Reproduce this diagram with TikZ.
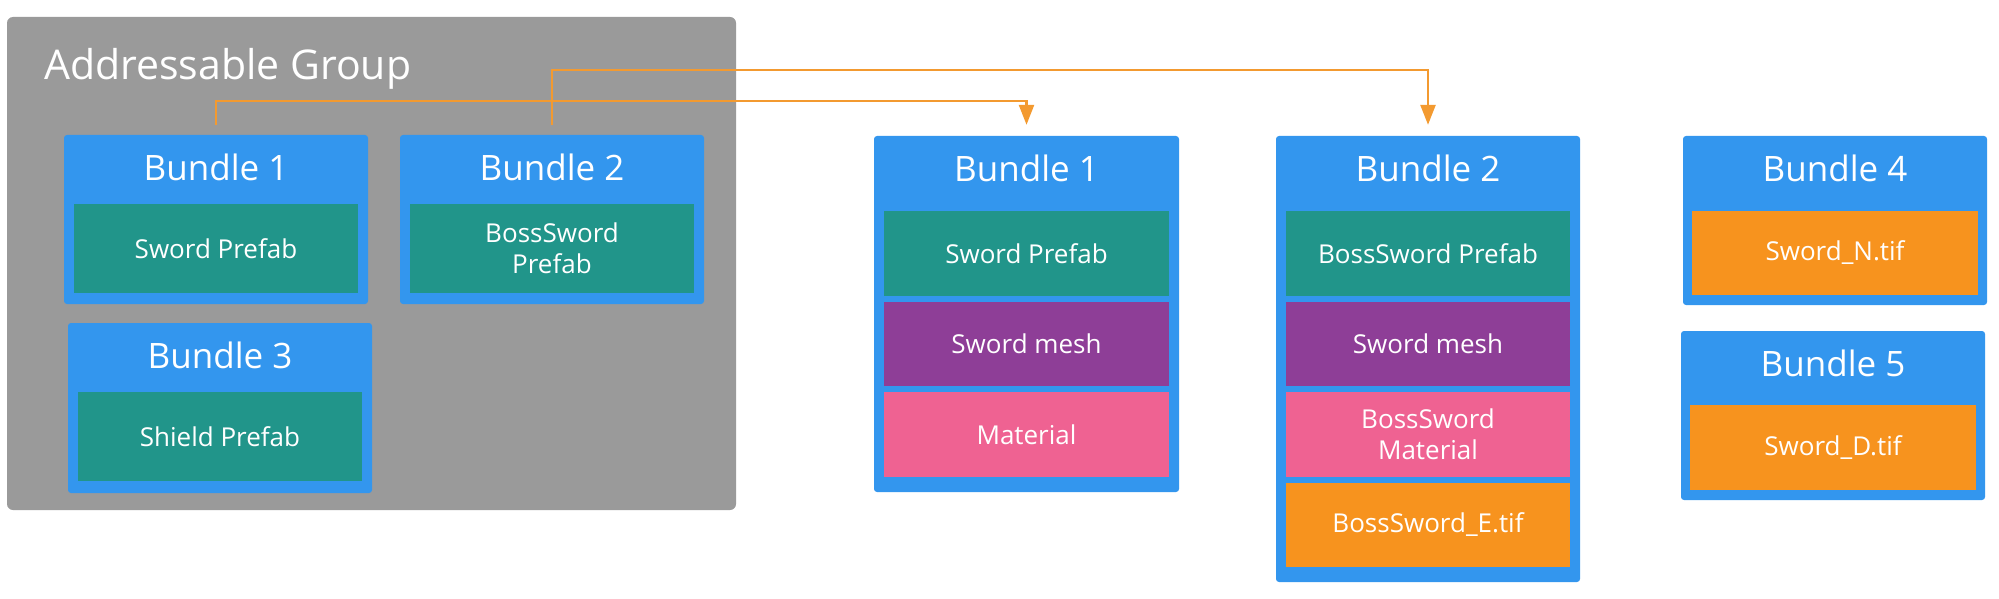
\documentclass[tikz,border=0pt]{standalone}
\usepackage{fontspec}
\setmainfont{Open Sans}
\usetikzlibrary{arrows.meta}
\definecolor{grp}{HTML}{9A9A9A}
\definecolor{bblue}{HTML}{3396EE}
\definecolor{tealc}{HTML}{21958A}
\definecolor{purp}{HTML}{8E3E97}
\definecolor{pinkc}{HTML}{EF6292}
\definecolor{orng}{HTML}{F7931E}
\definecolor{lineor}{HTML}{F39A30}
\begin{document}
\begin{tikzpicture}[x=1pt,y=-1pt,
  bundlebox/.style={fill=bblue,rounded corners=3pt,inner sep=0pt,draw=none},
  btitle/.style={text=white,font=\fontsize{35}{40}\selectfont,inner sep=0pt},
  item/.style={fill=#1,text=white,inner sep=0pt,align=center,
    font=\fontsize{26}{31}\selectfont},
  conn/.style={draw=lineor,line width=2.5pt,
    -{Triangle[width=15pt,length=20pt]},shorten <=10pt,shorten >=11pt}]
\useasboundingbox (0,0) rectangle (1999,599);
% group
\node[fill=grp,rounded corners=6pt,minimum width=729pt,minimum height=493pt,inner sep=0pt] (grp) at (371.5,263.5) {};
\node[anchor=base west,text=white,inner sep=0pt,font=\fontsize{41}{46}\selectfont] (grptitle) at (44,80) {Addressable Group};
% group bundles
\node[bundlebox,minimum width=304pt,minimum height=169pt] (gB1) at (216,219.5) {};
\node[btitle] (gB1t) at (216,167) {Bundle 1};
\node[item=tealc,minimum width=284pt,minimum height=89pt] (gB1a) at (216,248.5) {Sword Prefab};
\node[bundlebox,minimum width=304pt,minimum height=169pt] (gB2) at (552,219.5) {};
\node[btitle] (gB2t) at (552,167) {Bundle 2};
\node[item=tealc,minimum width=284pt,minimum height=89pt] (gB2a) at (552,248.5) {BossSword\\Prefab};
\node[bundlebox,minimum width=304pt,minimum height=170pt] (gB3) at (220,408) {};
\node[btitle] (gB3t) at (220,355) {Bundle 3};
\node[item=tealc,minimum width=284pt,minimum height=89pt] (gB3a) at (220,436.5) {Shield Prefab};
% middle bundle 1
\node[bundlebox,minimum width=305pt,minimum height=356pt] (mB1) at (1026.5,314) {};
\node[btitle] (mB1t) at (1026.5,168) {Bundle 1};
\node[item=tealc,minimum width=285pt,minimum height=85pt] (mB1a) at (1026.5,253.5) {Sword Prefab};
\node[item=purp,minimum width=285pt,minimum height=84pt] (mB1b) at (1026.5,344) {Sword mesh};
\node[item=pinkc,minimum width=285pt,minimum height=85pt] (mB1c) at (1026.5,434.5) {Material};
% middle bundle 2
\node[bundlebox,minimum width=304pt,minimum height=446pt] (mB2) at (1428,359) {};
\node[btitle] (mB2t) at (1428,168) {Bundle 2};
\node[item=tealc,minimum width=284pt,minimum height=85pt] (mB2a) at (1428,253.5) {BossSword Prefab};
\node[item=purp,minimum width=284pt,minimum height=84pt] (mB2b) at (1428,344) {Sword mesh};
\node[item=pinkc,minimum width=284pt,minimum height=85pt] (mB2c) at (1428,434.5) {BossSword\\Material};
\node[item=orng,minimum width=284pt,minimum height=84pt] (mB2d) at (1428,525) {BossSword\_E.tif};
% bundle 4 and 5
\node[bundlebox,minimum width=304pt,minimum height=169pt] (B4) at (1835,220.5) {};
\node[btitle] (B4t) at (1835,168) {Bundle 4};
\node[item=orng,minimum width=286pt,minimum height=84pt] (B4a) at (1835,253) {Sword\_N.tif};
\node[bundlebox,minimum width=304pt,minimum height=169pt] (B5) at (1833,415.5) {};
\node[btitle] (B5t) at (1833,363) {Bundle 5};
\node[item=orng,minimum width=286pt,minimum height=85pt] (B5a) at (1833,447.5) {Sword\_D.tif};
% connectors
\coordinate (h1) at (700,101);
\coordinate (h2) at (700,70);
\draw[conn] (gB1.north) -- (gB1.north |- h1) -| (mB1.north);
\draw[conn] (gB2.north) -- (gB2.north |- h2) -| (mB2.north);
\end{tikzpicture}
\end{document}
